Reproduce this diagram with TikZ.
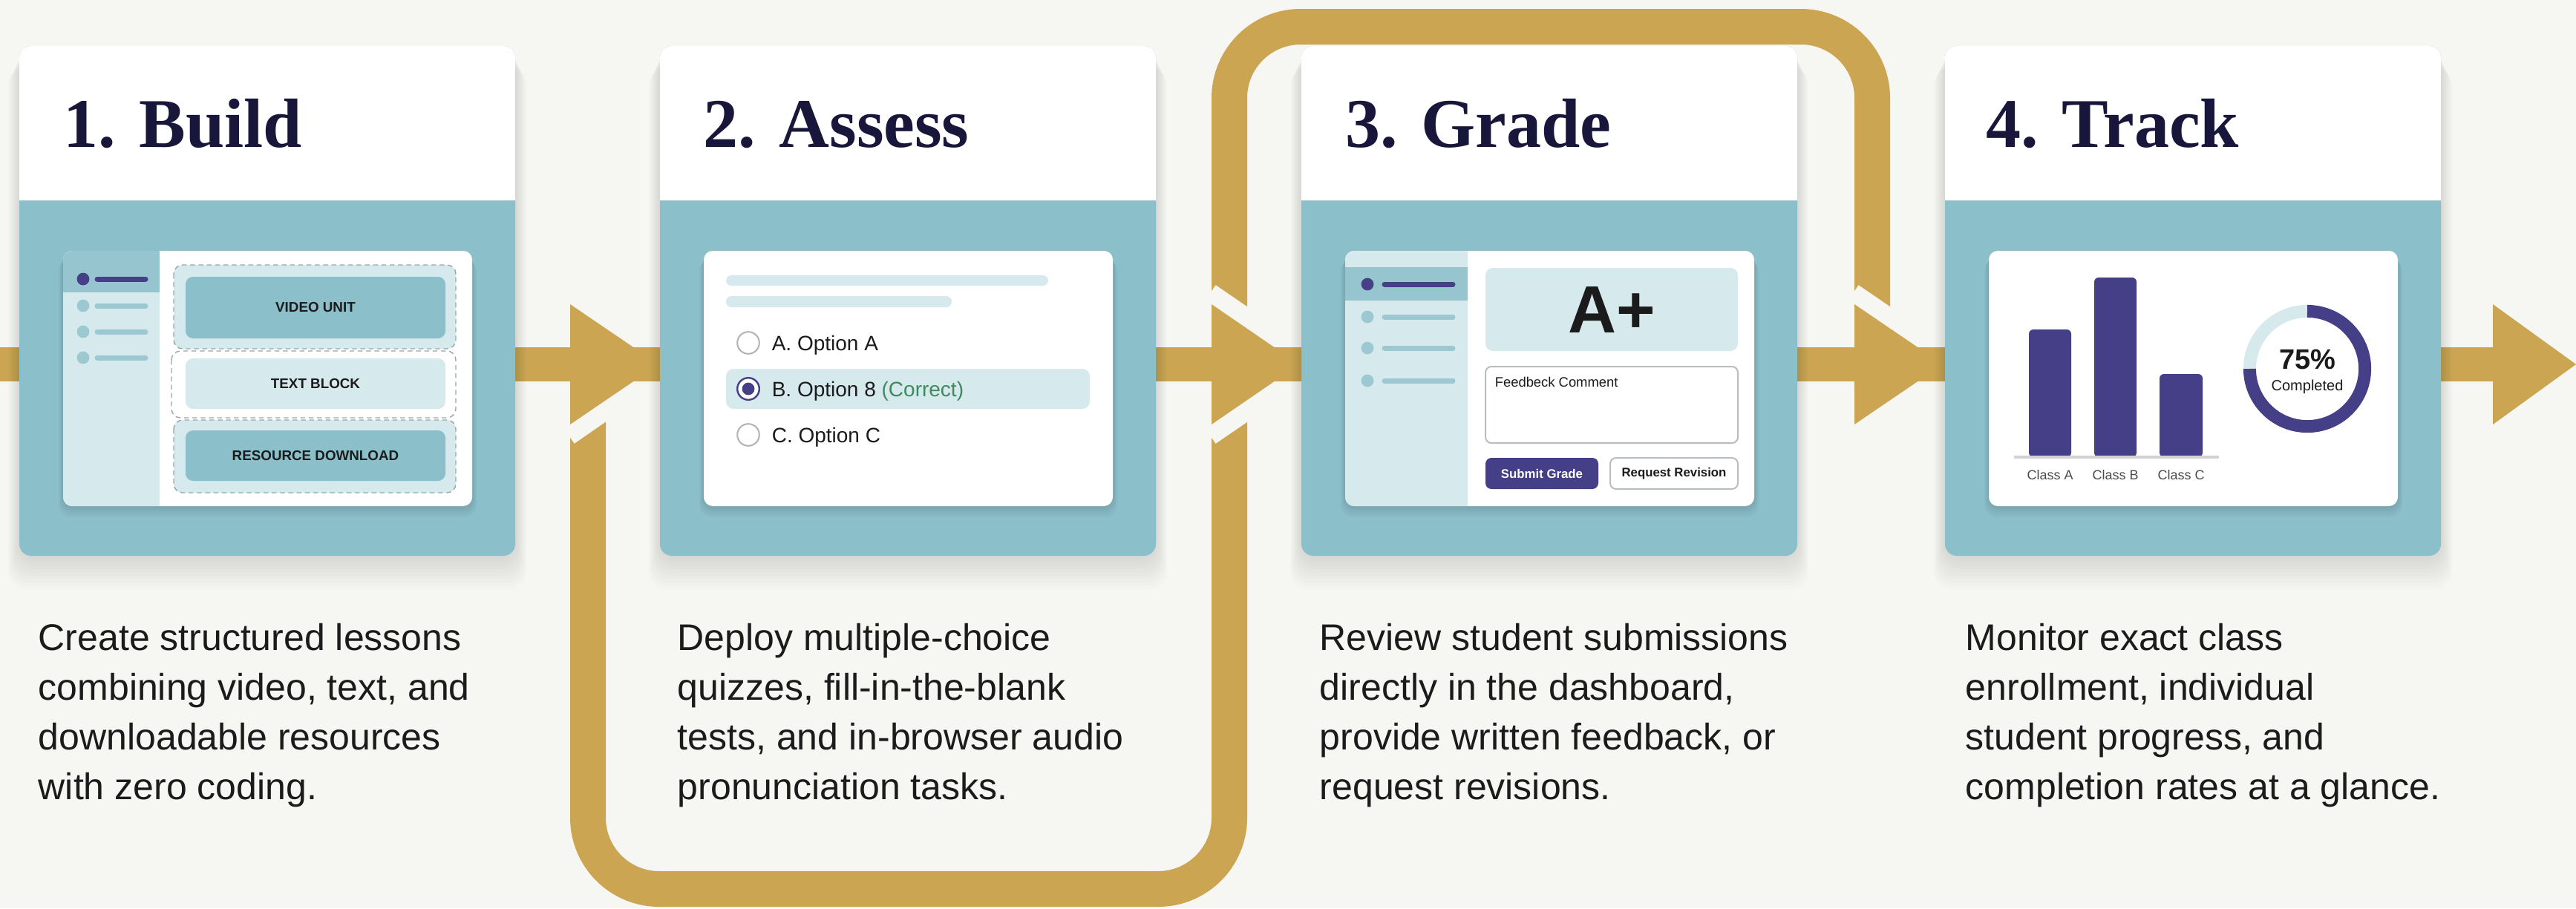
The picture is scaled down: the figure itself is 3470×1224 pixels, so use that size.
\documentclass[tikz,border=0pt]{standalone}
\usepackage{fontspec}
\setmainfont{Liberation Sans}
\newfontfamily\titlefont{Liberation Serif}
\definecolor{bgc}{HTML}{F6F6F3}
\definecolor{tealc}{HTML}{8BBFCA}
\definecolor{lightc}{HTML}{D6E9EC}
\definecolor{activec}{HTML}{96C5CF}
\definecolor{goldc}{HTML}{CBA552}
\definecolor{navyc}{HTML}{18173B}
\definecolor{indigoc}{HTML}{443F86}
\definecolor{greenc}{HTML}{3F8A5E}
\definecolor{textc}{HTML}{1B1B1B}
\definecolor{borderc}{HTML}{B8BDBF}
\definecolor{dashc}{HTML}{98A6AB}
\definecolor{dotc}{HTML}{9CC8D1}

\tikzset{
  cardtitle/.style={anchor=base west, inner sep=0, text=navyc, font=\titlefont\bfseries\fontsize{23.5}{23.5}\selectfont},
  desc/.style={anchor=base west, inner sep=0, align=left, text=textc, font=\fontsize{12.5}{16.75}\selectfont},
  blocklabel/.style={inner sep=0, text=textc, font=\bfseries\fontsize{4.7}{5}\selectfont},
  opt/.style={anchor=mid west, inner sep=0, text=textc, font=\fontsize{7}{8}\selectfont},
  small/.style={inner sep=0, text=textc, font=\fontsize{4.5}{5}\selectfont},
  btn/.style={inner sep=0, font=\bfseries\fontsize{4.2}{5}\selectfont},
  dashbox/.style={draw=dashc, line width=0.35pt, dash pattern=on 1.6pt off 1.2pt, rounded corners=3pt},
  goldline/.style={draw=goldc, line width=12pt},
  gapline/.style={draw=bgc, line width=12pt, line cap=butt},
}

\newcommand\cardbase[1]{%
  \begin{scope}[shift={(#1,0)}]
    \foreach \k in {1,...,10}
      \fill[black, opacity=0.012, rounded corners=6pt] (-\k*1.5, 62+\k*3) rectangle (668+\k*1.5, 749+\k*4.5);
    \fill[tealc, rounded corners=4pt] (0,62) rectangle (668,749);
    \fill[white] (0,270) {[rounded corners=4pt] -- (0,62) -- (668,62)} -- (668,270) -- cycle;
    \foreach \k in {1,...,6}
      \fill[black, opacity=0.02, rounded corners=4pt] (59-\k, 338+\k*2) rectangle (610+\k, 682+\k*2.5);
    \fill[white, rounded corners=3pt] (59,338) rectangle (610,682);
  \end{scope}}

\begin{document}
\begin{tikzpicture}[x=0.25pt,y=-0.25pt]
\fill[bgc] (0,0) rectangle (3470,1224);
\useasboundingbox (0,0) rectangle (3470,1224);

% gold loop and main shaft
\draw[goldline, rounded corners=24pt] (792,491) -- (792,1198) -- (1656,1198) -- (1656,36) -- (2522,36) -- (2522,491);
\fill[goldc] (0,468) rectangle (3420,514);
% background-coloured gaps where the loop meets the arrow heads
\draw[gapline] (760,404) -- (835,456);
\draw[gapline] (760,578) -- (835,526);
\draw[gapline] (1624,404) -- (1700,456);
\draw[gapline] (1624,578) -- (1700,526);
\draw[gapline] (2490,404) -- (2566,456);
% arrow heads
\foreach \b/\t in {768/887, 1632/1750, 2498/2617, 3358/3470}
  \fill[goldc] (\b,410) -- (\t,491) -- (\b,572) -- cycle;

% cards
\cardbase{26}
\cardbase{889}
\cardbase{1753}
\cardbase{2620}

% ---------- card 1 ----------
\begin{scope}[shift={(26,0)}]
  \node[cardtitle] (t1) at (59,198) {1. Build};
  \begin{scope}
    \clip[rounded corners=3pt] (59,338) rectangle (610,682);
    \fill[lightc] (59,338) rectangle (189,682);
    \fill[activec] (59,338) rectangle (189,394);
  \end{scope}
  \fill[indigoc] (86,376) circle[radius=2.1pt];
  \draw[indigoc, line width=1.75pt, line cap=round] (105,376) -- (170,376);
  \foreach \yy in {412,447,482}{
    \fill[dotc] (86,\yy) circle[radius=2.1pt];
    \draw[dotc, line width=1.75pt, line cap=round] (105,\yy) -- (170,\yy);
  }
  \path[dashbox, fill=lightc] (208,357) rectangle (588,470);
  \fill[tealc, rounded corners=2.5pt] (224,373) rectangle (574,456);
  \node[blocklabel] (video) at (399,414) {VIDEO UNIT};
  \path[dashbox, fill=white] (205,473) rectangle (588,563);
  \fill[lightc, rounded corners=2.5pt] (224,483) rectangle (574,551);
  \node[blocklabel] (textblock) at (399,517) {TEXT BLOCK};
  \path[dashbox, fill=lightc] (208,566) rectangle (588,664);
  \fill[tealc, rounded corners=2.5pt] (224,580) rectangle (574,648);
  \node[blocklabel] (resource) at (399,614) {RESOURCE DOWNLOAD};
  \node[desc] (d1) at (25,1077) {Create structured lessons\\combining video, text, and\\downloadable resources\\with zero coding.};
\end{scope}

% ---------- card 2 ----------
\begin{scope}[shift={(889,0)}]
  \node[cardtitle] (t2) at (58,198) {2. Assess};
  \fill[lightc, rounded corners=1.8pt] (89,371) rectangle (523,385);
  \fill[lightc, rounded corners=1.8pt] (89,399) rectangle (393,414);
  \draw[gray!60, line width=0.5pt, fill=white] (119,462) circle[radius=3.7pt];
  \node[opt] (oa) at (150,462) {A. Option A};
  \fill[lightc, rounded corners=2.5pt] (89,497) rectangle (579,551);
  \draw[indigoc, line width=0.6pt, fill=white] (119,524) circle[radius=3.7pt];
  \fill[indigoc] (119,524) circle[radius=2.1pt];
  \node[opt] (ob) at (150,524) {B. Option 8 \textcolor{greenc}{(Correct)}};
  \draw[gray!60, line width=0.5pt, fill=white] (119,586) circle[radius=3.7pt];
  \node[opt] (oc) at (150,586) {C. Option C};
  \node[desc] (d2) at (23,1077) {Deploy multiple-choice\\quizzes, fill-in-the-blank\\tests, and in-browser audio\\pronunciation tasks.};
\end{scope}

% ---------- card 3 ----------
\begin{scope}[shift={(1753,0)}]
  \node[cardtitle] (t3) at (59,198) {3. Grade};
  \begin{scope}
    \clip[rounded corners=3pt] (59,338) rectangle (610,682);
    \fill[lightc] (59,338) rectangle (224,682);
    \fill[activec] (59,360) rectangle (224,405);
  \end{scope}
  \fill[indigoc] (89,383) circle[radius=2.1pt];
  \draw[indigoc, line width=1.75pt, line cap=round] (112,383) -- (204,383);
  \foreach \yy in {427,469,513}{
    \fill[dotc] (89,\yy) circle[radius=2.1pt];
    \draw[dotc, line width=1.75pt, line cap=round] (112,\yy) -- (204,\yy);
  }
  \fill[lightc, rounded corners=2.5pt] (248,361) rectangle (588,473);
  \node[inner sep=0, text=textc, font=\bfseries\fontsize{22.5}{22.5}\selectfont] (grade) at (418,418) {A+};
  \draw[borderc, line width=0.5pt, fill=white, rounded corners=2pt] (248,494) rectangle (588,597);
  \node[small, anchor=base west, font=\fontsize{4.6}{5}\selectfont] (fb) at (260,521) {Feedbeck Comment};
  \fill[indigoc, rounded corners=2pt] (248,617) rectangle (400,659);
  \node[btn, text=white] (submit) at (324,638) {Submit Grade};
  \draw[borderc, line width=0.5pt, fill=white, rounded corners=2pt] (416,617) rectangle (588,659);
  \node[btn, text=textc] (revise) at (502,638) {Request Revision};
  \node[desc] (d3) at (24,1077) {Review student submissions\\directly in the dashboard,\\provide written feedback, or\\request revisions.};
\end{scope}

% ---------- card 4 ----------
\begin{scope}[shift={(2620,0)}]
  \node[cardtitle] (t4) at (55,198) {4. Track};
  \fill[indigoc, rounded corners=1.5pt] (113,444) rectangle (170,616);
  \fill[indigoc, rounded corners=1.5pt] (201,374) rectangle (258,616);
  \fill[indigoc, rounded corners=1.5pt] (289,504) rectangle (347,616);
  \draw[gray!35, line width=0.8pt] (93,616) -- (369,616);
  \node[small, text=textc!80] (ca) at (141.5,640) {Class A};
  \node[small, text=textc!80] (cb) at (229.5,640) {Class B};
  \node[small, text=textc!80] (cc) at (318,640) {Class C};
  \draw[lightc, line width=4.25pt] (488,497) ++(90:19.4pt) arc[start angle=90, end angle=180, radius=19.4pt];
  \draw[indigoc, line width=4.25pt] (488,497) ++(90:19.4pt) arc[start angle=90, end angle=-180, radius=19.4pt];
  \node[inner sep=0, text=textc, font=\bfseries\fontsize{9.5}{10}\selectfont] (pct) at (488,484) {75\%};
  \node[small, font=\fontsize{5}{6}\selectfont] (comp) at (488,521) {Completed};
  \node[desc] (d4) at (27,1077) {Monitor exact class\\enrollment, individual\\student progress, and\\completion rates at a glance.};
\end{scope}
\end{tikzpicture}
\end{document}
